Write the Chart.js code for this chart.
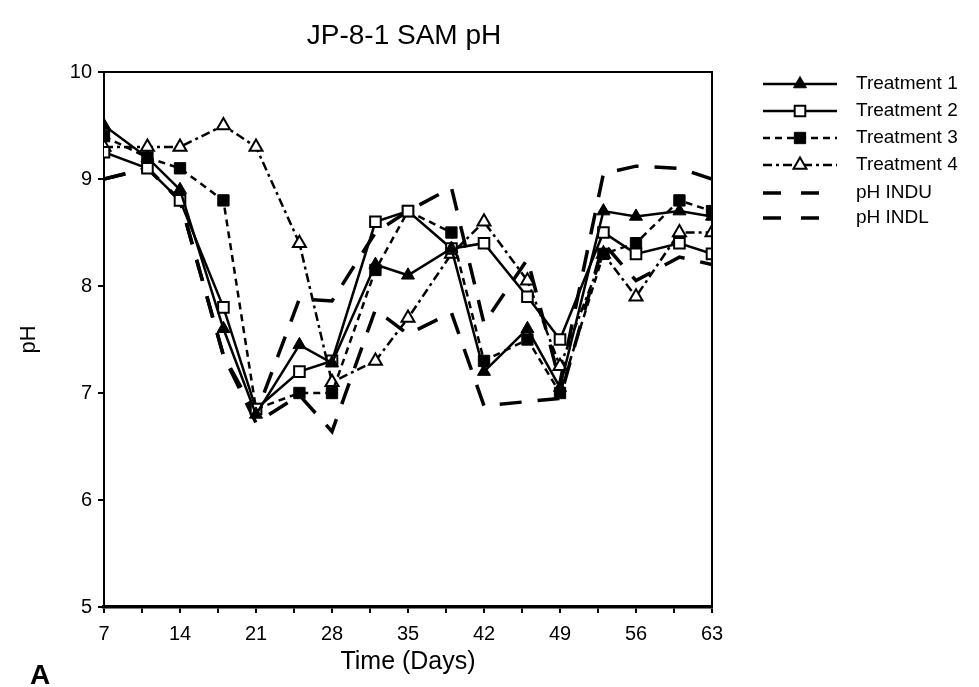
<!DOCTYPE html>
<html>
<head>
<meta charset="utf-8">
<script src="https://cdn.jsdelivr.net/npm/chart.js@4.4.0/dist/chart.umd.min.js"></script>
<style>
  html, body { margin: 0; background: #fff; }
</style>
</head>
<body>
<canvas id="phChart" width="979" height="687"></canvas>
<script>
// sampling days
const days = [7, 11, 14, 18, 21, 25, 28, 32, 35, 39, 42, 46, 49, 53, 56, 60, 63];

// pH
const treatment1 = [9.5, 9.2, 8.9, 7.6, 6.8, 7.45, 7.28, 8.2, 8.1, 8.35, 7.2, 7.6, 7.05, 8.7, 8.65, 8.7, 8.65];
const treatment2 = [9.25, 9.1, 8.8, 7.8, 6.85, 7.2, 7.3, 8.6, 8.7, 8.35, 8.4, 7.9, 7.5, 8.5, 8.3, 8.4, 8.3];
const treatment3 = [9.4, 9.2, 9.1, 8.8, 6.85, 7.0, 7.0, 8.15, 8.7, 8.5, 7.3, 7.5, 7.0, 8.3, 8.4, 8.8, 8.7];
const treatment4 = [9.3, 9.3, 9.3, 9.5, 9.3, 8.4, 7.1, 7.3, 7.7, 8.3, 8.6, 8.05, 7.25, 8.3, 7.9, 8.5, 8.5];
const phINDU = [9.0, 9.1, 8.8, 7.35, 6.8, 7.88, 7.86, 8.5, 8.7, 8.92, 7.65, 8.25, 7.1, 9.05, 9.12, 9.1, 9.0];
const phINDL = [9.0, 9.1, 8.8, 7.35, 6.72, 6.98, 6.64, 7.78, 7.55, 7.75, 6.88, 6.92, 6.95, 8.4, 8.05, 8.27, 8.2];

const seriesNames = ['Treatment 1', 'Treatment 2', 'Treatment 3', 'Treatment 4', 'pH INDU', 'pH INDL'];
const xTickMarks = [7, 10.5, 14, 17.5, 21, 24.5, 28, 31.5, 35, 38.5, 42, 45.5, 49, 52.5, 56, 59.5, 63];
const xTickLabels = [7, 14, 21, 28, 35, 42, 49, 56, 63];
const yTickLabels = [5, 6, 7, 8, 9, 10];

const FONT = '"Liberation Sans", Arial, Helvetica, sans-serif';

const pts = vals => days.map((d, i) => ({ x: d, y: vals[i] }));

const datasets = [
  { label: seriesNames[0], data: pts(treatment1), borderColor: '#000', borderWidth: 2.5,
    pointStyle: 'triangle', pointRadius: 7.5, pointBackgroundColor: '#000', pointBorderColor: '#000', pointBorderWidth: 1 },
  { label: seriesNames[1], data: pts(treatment2), borderColor: '#000', borderWidth: 2.5,
    pointStyle: 'rect', pointRadius: 7.5, pointBackgroundColor: '#fff', pointBorderColor: '#000', pointBorderWidth: 2 },
  { label: seriesNames[2], data: pts(treatment3), borderColor: '#000', borderWidth: 2.5, borderDash: [7, 5],
    pointStyle: 'rect', pointRadius: 8, pointBackgroundColor: '#000', pointBorderColor: '#000', pointBorderWidth: 1 },
  { label: seriesNames[3], data: pts(treatment4), borderColor: '#000', borderWidth: 2.5, borderDash: [9, 4, 3, 4],
    pointStyle: 'triangle', pointRadius: 7.5, pointBackgroundColor: '#fff', pointBorderColor: '#000', pointBorderWidth: 2 },
  { label: seriesNames[4], data: pts(phINDU), borderColor: '#000', borderWidth: 3.5, borderDash: [22, 16],
    pointRadius: 0 },
  { label: seriesNames[5], data: pts(phINDL), borderColor: '#000', borderWidth: 3.5, borderDash: [22, 16],
    pointRadius: 0 }
];

// frame, legend, title and panel letter
const extras = {
  id: 'extras',
  afterDraw(chart) {
    const { ctx, chartArea: a } = chart;
    ctx.save();
    ctx.strokeStyle = '#000';
    ctx.lineWidth = 2;
    ctx.beginPath();
    ctx.moveTo(a.left, a.top);
    ctx.lineTo(a.right, a.top);
    ctx.lineTo(a.right, a.bottom);
    ctx.stroke();

    ctx.fillStyle = '#000';
    ctx.font = '28px ' + FONT;
    ctx.textAlign = 'center';
    ctx.textBaseline = 'middle';
    ctx.fillText('JP-8-1 SAM pH', 404, 36);

    ctx.font = 'bold 28px ' + FONT;
    ctx.textAlign = 'left';
    ctx.fillText('A', 30, 676);

    // legend
    const rowY = [84, 111, 138, 165, 193, 218];
    const x0 = 763, x1 = 837;
    chart.data.datasets.forEach((ds, i) => {
      const y = rowY[i];
      ctx.save();
      ctx.lineWidth = ds.borderWidth;
      ctx.setLineDash(i >= 4 ? [18, 20] : (ds.borderDash || []));
      ctx.beginPath();
      ctx.moveTo(x0, y);
      ctx.lineTo(i >= 4 ? 820 : x1, y);
      ctx.stroke();
      ctx.restore();
      if (ds.pointRadius > 0) {
        ctx.save();
        ctx.fillStyle = ds.pointBackgroundColor;
        ctx.strokeStyle = ds.pointBorderColor;
        ctx.lineWidth = ds.pointBorderWidth;
        Chart.helpers.drawPoint(ctx, {
          pointStyle: ds.pointStyle, radius: ds.pointRadius, borderWidth: ds.pointBorderWidth, rotation: 0
        }, (x0 + x1) / 2, y);
        ctx.restore();
      }
      ctx.fillStyle = '#000';
      ctx.font = '19px ' + FONT;
      ctx.textAlign = 'left';
      ctx.textBaseline = 'middle';
      ctx.fillText(ds.label, 856, y);
    });
    ctx.restore();
  }
};

new Chart(document.getElementById('phChart').getContext('2d'), {
  type: 'line',
  data: { datasets: datasets },
  options: {
    responsive: false,
    animation: false,
    devicePixelRatio: 1,
    layout: { padding: { top: 72, right: 267, left: 0, bottom: 0 } },
    plugins: { legend: { display: false }, title: { display: false }, tooltip: { enabled: false } },
    elements: { line: { tension: 0 } },
    scales: {
      x: {
        type: 'linear', min: 7, max: 63,
        afterBuildTicks: s => { s.ticks = xTickMarks.map(v => ({ value: v })); },
        afterFit: s => { s.height = 80; },
        grid: { drawOnChartArea: false, tickLength: 6, color: '#000', lineWidth: 2 },
        border: { display: true, color: '#000', width: 3.5 },
        ticks: {
          color: '#000', font: { family: FONT, size: 20 }, padding: 9, maxRotation: 0, autoSkip: false,
          callback: v => (xTickLabels.includes(v) ? String(v) : '')
        },
        title: { display: true, text: 'Time (Days)', color: '#000', font: { family: FONT, size: 25 }, padding: { bottom: 10 } }
      },
      y: {
        min: 5, max: 10,
        afterBuildTicks: s => { s.ticks = yTickLabels.map(v => ({ value: v })); },
        afterFit: s => { s.width = 104; },
        grid: { drawOnChartArea: false, tickLength: 6, color: '#000', lineWidth: 2 },
        border: { display: true, color: '#000', width: 2 },
        ticks: { color: '#000', font: { family: FONT, size: 20 }, padding: 6 },
        title: { display: true, text: 'pH', color: '#000', font: { family: FONT, size: 22 }, padding: { top: 16 } }
      }
    }
  },
  plugins: [extras]
});
</script>
</body>
</html>
